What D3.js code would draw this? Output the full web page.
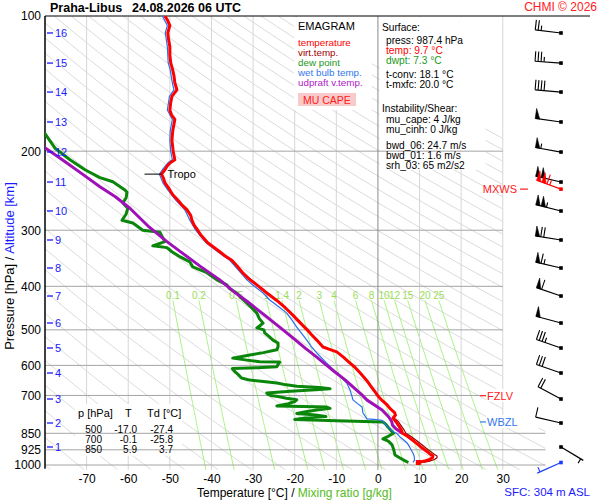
<!DOCTYPE html>
<html>
<head>
<meta charset="utf-8">
<script src="https://cdn.jsdelivr.net/npm/d3@7"></script>
<style>
  body { margin: 0; background: #fff; }
  svg { font-family: "Liberation Sans", Arial, sans-serif; }
</style>
</head>
<body>
<svg id="chart" width="600" height="500"></svg>
<script>
var pressTicks = [100, 200, 300, 400, 500, 600, 700, 850, 925, 1000];
var tempTicks = [-70, -60, -50, -40, -30, -20, -10, 0, 10, 20, 30];
var mixRatios = [0.1, 0.2, 0.5, 1, 1.4, 2, 3, 4, 6, 8, 10, 12, 15, 20, 25];
var altKm = [1, 2, 3, 4, 5, 6, 7, 8, 9, 10, 11, 12, 13, 14, 15, 16];
var altPress = [911.8, 806.2, 712.9, 623.9, 548.8, 482.8, 420.4, 364.1, 315.4, 271.8, 234.3, 200.9, 172.2, 147.7, 127.3, 109.1];

// [pressure hPa, value °C]
var temperature = [
  [987.4, 9.7], [980, 11.2], [972, 12.4], [963, 13.1], [955, 13.2], [948, 12.7], [935, 11.9],
  [918, 10.7], [900, 9.6], [880, 8.3], [862, 7.0], [850, 5.9], [836, 5.6], [818, 5.0],
  [800, 4.3], [786, 3.6], [775, 4.2], [764, 4.0], [750, 3.0], [735, 2.2], [718, 1.0],
  [700, -0.1], [685, -0.8], [670, -1.6], [648, -2.7], [625, -4.2], [605, -5.6], [593, -6.7],
  [575, -8.3], [560, -9.9], [552, -11.8], [546, -13.2], [527, -14.7], [512, -16.0], [500, -17.0],
  [483, -18.6], [463, -20.5], [447, -22.2], [430, -24.3], [414, -26.7], [397, -29.1], [385, -31.0],
  [373, -32.5], [360, -33.9], [350, -35.1], [342, -36.8], [335, -38.0], [320, -40.9], [308, -42.5],
  [300, -43.3], [292, -44.2], [285, -44.7], [278, -45.0], [270, -45.9], [263, -47.2], [257, -48.1],
  [250, -49.3], [244, -50.0], [235, -51.2], [229, -51.6], [225, -52.0], [220, -51.2], [215, -50.5],
  [212, -49.8], [209, -48.8], [200, -49.2], [189, -49.5], [180, -49.3], [170, -48.8], [166, -49.6],
  [162, -50.0], [156, -49.8], [151, -49.5], [146, -48.3], [141, -48.8], [136, -49.0], [132, -49.3],
  [127, -49.8], [122, -50.0], [117, -50.0], [113, -50.3], [109, -50.5], [105, -50.0], [102, -50.6],
  [100, -51.2]
];
var virtTemp = [
  [987.4, 10.9], [980, 12.4], [972, 13.6], [963, 14.2], [955, 14.2], [948, 13.6], [935, 12.8],
  [918, 11.6], [900, 10.5], [880, 9.1], [862, 7.8], [850, 6.7], [836, 6.3], [818, 5.6],
  [800, 4.9], [786, 3.8], [775, 4.3], [764, 4.1], [750, 3.1], [735, 2.3], [718, 1.1],
  [700, 0.0], [670, -1.5], [648, -2.6], [625, -4.1], [593, -6.6], [560, -9.8], [546, -13.1],
  [527, -14.6], [500, -16.9], [463, -20.4], [430, -24.2], [397, -29.0], [373, -32.5]
];
var dewPoint = [
  [987.4, 7.3], [975, 6.2], [965, 5.3], [950, 4.1], [925, 3.8], [902, 3.4], [885, 2.5],
  [875, 1.2], [866, 2.2], [850, 3.7], [835, 3.0], [823, 2.4], [810, 1.8], [802, 1.2],
  [797, -10], [792, -20.0], [786, -17.5], [780, -12.5], [774, -15], [768, -19.5], [760, -17],
  [754, -14.7], [748, -11.5], [743, -12.3], [741, -18], [739, -24.3], [730, -21.5], [722, -20],
  [716, -19.5], [710, -22], [704, -24], [700, -25.8], [695, -26.5], [691, -26.7], [685, -21],
  [680, -15], [676, -11.5], [672, -14], [668, -19.5], [663, -22], [657, -24.3], [652, -27.5],
  [647, -30.8], [640, -32.8], [630, -33.5], [618, -34.5], [610, -35], [607, -29], [604, -24.3],
  [597, -24], [590, -23.6], [589, -28.4], [584, -31.5], [578, -34.9], [574, -33], [569, -30.8],
  [562, -27.5], [554, -24.3], [545, -24.0], [535, -24.0], [527, -25.2], [517, -26.2], [508, -27.2],
  [500, -27.4], [495, -29.1], [489, -28.3], [483, -27.6], [472, -28.5], [459, -29.1], [447, -30.3],
  [436, -31.5], [425, -32.8], [414, -33.9], [405, -35.6], [397, -36.3], [387, -38.7], [373, -41.1],
  [362, -44.5], [353, -45.2], [344, -47.5], [335, -49.5], [328, -50.7], [325, -54.1], [318, -51.2],
  [303, -52.4], [300, -56.5], [289, -58.9], [285, -61.5], [276, -60.5], [268, -60.1], [261, -61.3],
  [254, -60.5], [247, -60.3], [244, -60.8], [234, -63.7], [229, -66.8], [220, -70.4], [209, -74],
  [197, -77.6], [180, -80.5]
];
var wetBulb = [
  [987.4, 8.4], [975, 8.8], [955, 8.7], [940, 8.4], [915, 7.7], [893, 7.0], [880, 6.2],
  [866, 5.3], [850, 4.5], [844, 3.8], [825, 2.5], [805, 1.4], [795, 1.0], [791, -1.0],
  [789, -2.6], [780, -3.0], [766, -3.6], [755, -3.7], [743, -3.8], [730, -4.9], [716, -6.0],
  [700, -6.3], [681, -6.7], [657, -7.5], [640, -8.7], [624, -9.9], [593, -12.3], [563, -14.7],
  [545, -16.0], [527, -17.1], [510, -18.3], [493, -19.5], [475, -20.7], [459, -21.9], [443, -24.0],
  [429, -26.0], [414, -27.6], [400, -29.7], [387, -31.5], [373, -33.0], [350, -35.6], [335, -38.5],
  [320, -41.3], [300, -43.8], [285, -45.2], [270, -46.4], [257, -48.6], [244, -50.5], [235, -51.7],
  [225, -52.5], [220, -51.8], [212, -50.4], [209, -49.4], [200, -49.8], [189, -50.0], [180, -49.9],
  [170, -49.4], [162, -50.6], [151, -50.1], [146, -49.0], [141, -49.4], [132, -49.9], [127, -50.4],
  [117, -50.6], [109, -51.1], [105, -50.6], [100, -51.8]
];
var parcel = [
  [850, 5.9], [830, 4.3], [815, 3.5], [800, 3.3], [782, 2.6], [754, 1.0], [717, -2.6],
  [700, -3.7], [680, -5.2], [647, -7.8], [620, -10.4], [600, -12.3], [575, -14.7], [550, -17.4],
  [525, -20.0], [500, -22.8], [468, -26.7], [433, -31.3], [414, -34.2], [387, -38.0], [362, -42.5],
  [340, -46.5], [318, -50.7], [295, -55.0], [268, -59.6], [253, -63.0], [240, -66.8], [225, -71.0],
  [210, -75.5], [196, -80.2]
];

// winds: surface, then 1..16 km
var windPress = [987.4].concat(altPress);
var windDir = [246, 121, 283, 298, 289, 289, 285, 289, 283, 279, 284, 283, 280, 278, 275, 274, 277];
var windSpd = [5, 3, 10, 20, 30, 35, 50, 60, 65, 70, 105, 100, 55, 50, 40, 35, 25];
var maxWind = { p: 243, dir: 290, spd: 115 };

var tableP = [500, 700, 850];
var tableT = [-17.0, -0.1, 5.9];
var tableTd = [-27.4, -25.8, 3.7];

var tropoP = 225, tropoT = -52.0;
var fzlvP = 701, wbzlP = 802;

// --- scales ---
var svg = d3.select('#chart');
var x = d3.scaleLinear().domain([-80, 40]).range([45, 544.4]);
var y = d3.scaleLog().domain([100, 1000]).range([16, 465]);
var pBot = 1025;
var plotL = x(-80), plotR = x(40), plotT = y(100), plotB = y(pBot);
var upperR = x(30), stepY = 428;   // upper part of the diagram stops at the 30 °C isotherm

var loc = d3.formatLocale({ decimal: '.', thousands: '', grouping: [3], currency: ['', ''], minus: '-' });
var f1 = loc.format('.1f');
var fi = loc.format('d');

svg.append('defs').append('clipPath').attr('id', 'plotclip')
  .append('path').attr('d', 'M' + plotL + ',' + plotT + 'H' + upperR + 'V' + stepY +
    'H' + (plotR + 1) + 'V' + plotB + 'H' + plotL + 'Z');

var line = d3.line().x(function (d) { return x(d[1]); }).y(function (d) { return y(d[0]); });

var bg = svg.append('g').attr('clip-path', 'url(#plotclip)');

// dry adiabats
var pSteps = d3.range(100, pBot + 1, 5);
d3.range(-80, 221, 8).forEach(function (th) {
  var pts = pSteps.map(function (p) {
    return [p, (th + 273.15) * Math.pow(p / 1000, 0.2857) - 273.15];
  });
  bg.append('path').attr('d', line(pts))
    .attr('fill', 'none').attr('stroke', '#d6d6d6').attr('stroke-width', 0.9);
});

// isotherms
tempTicks.forEach(function (t) {
  if (t === 0) return;
  svg.append('line').attr('x1', x(t)).attr('x2', x(t)).attr('y1', plotT).attr('y2', plotB)
    .attr('stroke', '#d6d6d6').attr('stroke-width', 1);
});

// mixing ratio lines
function dewFromMix(w, p) {
  var e = w * p / (622 + w);
  var l = Math.log(e / 6.112);
  return 243.5 * l / (17.67 - l);
}
var mixTop = 430;
var mixP = d3.range(mixTop, pBot + 1, 5);
mixRatios.forEach(function (w) {
  var pts = mixP.map(function (p) { return [p, dewFromMix(w, p)]; });
  bg.append('path').attr('d', line(pts))
    .attr('fill', 'none').attr('stroke', '#a8f080').attr('stroke-width', 1);
  svg.append('text').attr('x', x(dewFromMix(w, mixTop))).attr('y', 298.5)
    .attr('text-anchor', 'middle').attr('font-size', 10).attr('fill', '#99dd55')
    .text(String(w));
});

// white text boxes
svg.append('rect').attr('x', 294).attr('y', 17).attr('width', 78).attr('height', 93).attr('fill', '#fff');
svg.append('rect').attr('x', 379.5).attr('y', 17).attr('width', 106).attr('height', 153).attr('fill', '#fff');
svg.append('rect').attr('x', 75).attr('y', 404).attr('width', 107).attr('height', 52)
  .attr('fill', '#fff').attr('fill-opacity', 0.9);

// isobars
pressTicks.forEach(function (p) {
  if (p === 100) return;
  var yy = y(p);
  svg.append('line').attr('x1', plotL).attr('x2', yy < stepY ? upperR : plotR + 1).attr('y1', yy).attr('y2', yy)
    .attr('stroke', '#a4a4a4').attr('stroke-width', 1);
});
svg.append('line').attr('x1', x(0)).attr('x2', x(0)).attr('y1', plotT).attr('y2', plotB)
  .attr('stroke', '#8c8c8c').attr('stroke-width', 1);

// frame
svg.append('line').attr('x1', plotL).attr('x2', 590).attr('y1', plotT).attr('y2', plotT)
  .attr('stroke', '#000').attr('stroke-width', 1.2);
svg.append('line').attr('x1', plotL).attr('x2', plotL).attr('y1', plotT).attr('y2', plotB - 1)
  .attr('stroke', '#000').attr('stroke-width', 1.5);

// profiles
var prof = svg.append('g').attr('clip-path', 'url(#plotclip)').attr('fill', 'none')
  .attr('stroke-linejoin', 'round');
prof.append('path').attr('d', line(dewPoint)).attr('stroke', '#0a870a').attr('stroke-width', 3);
prof.append('path').attr('d', line(wetBulb)).attr('stroke', '#2a6ff0').attr('stroke-width', 1.2);
prof.append('path').attr('d', line(parcel)).attr('stroke', '#a010b8').attr('stroke-width', 3);
prof.append('path').attr('d', line(virtTemp)).attr('stroke', '#9a0000').attr('stroke-width', 1.2);
prof.append('path').attr('d', line(temperature)).attr('stroke', '#ff0000').attr('stroke-width', 3);
svg.append('rect').attr('x', x(temperature[0][1]) - 2.5).attr('y', y(temperature[0][0]) - 2.5)
  .attr('width', 5).attr('height', 5).attr('fill', '#ff0000');

// tropopause
svg.append('line').attr('x1', x(tropoT) - 17).attr('x2', x(tropoT)).attr('y1', y(tropoP)).attr('y2', y(tropoP))
  .attr('stroke', '#000').attr('stroke-width', 1);
svg.append('text').attr('x', x(tropoT) + 6).attr('y', y(tropoP) + 4).attr('font-size', 11).text('Tropo');

// level markers on the right
function levelMark(p, label, col) {
  var yy = y(p);
  svg.append('rect').attr('x', 486).attr('y', yy - 7).attr('width', 36).attr('height', 13).attr('fill', '#fff');
  svg.append('line').attr('x1', 480).attr('x2', 486).attr('y1', yy).attr('y2', yy)
    .attr('stroke', col).attr('stroke-width', 1.2);
  svg.append('text').attr('x', 487).attr('y', yy + 4).attr('font-size', 11).attr('fill', col).text(label);
}
levelMark(fzlvP, 'FZLV', '#ff2020');
levelMark(wbzlP, 'WBZL', '#3377ee');
svg.append('text').attr('x', 517).attr('y', y(maxWind.p) + 4).attr('text-anchor', 'end')
  .attr('font-size', 11).attr('fill', '#ff2020').text('MXWS');
svg.append('line').attr('x1', 520).attr('x2', 528).attr('y1', y(maxWind.p)).attr('y2', y(maxWind.p))
  .attr('stroke', '#ff2020').attr('stroke-width', 1.2);

// wind barbs
var barbX = 561;
function barb(px, py, dir, spd, col) {
  var g = svg.append('g');
  var a = dir * Math.PI / 180;
  var ux = Math.sin(a), uy = -Math.cos(a);
  var nx = -uy, ny = ux;
  var L = 26;
  function at(d, off) { return [px + ux * d + nx * off, py + uy * d + ny * off]; }
  var e = at(L, 0);
  g.append('line').attr('x1', px).attr('y1', py).attr('x2', e[0]).attr('y2', e[1])
    .attr('stroke', col).attr('stroke-width', 1.2);
  g.append('rect').attr('x', px - 1.8).attr('y', py - 1.8).attr('width', 3.6).attr('height', 3.6).attr('fill', col);
  var s = Math.round(spd / 5) * 5;
  var pen = Math.floor(s / 50); s -= pen * 50;
  var full = Math.floor(s / 10); s -= full * 10;
  var half = s >= 5 ? 1 : 0;
  var d = L;
  for (var i = 0; i < pen; i++) {
    var p1 = at(d, 0), p2 = at(d, 10), p3 = at(d - 4.5, 0);
    g.append('polygon').attr('points', [p1, p2, p3].map(function (q) { return q.join(','); }).join(' '))
      .attr('fill', col).attr('stroke', col).attr('stroke-width', 0.6);
    d -= 5.5;
  }
  for (var j = 0; j < full; j++) {
    var b0 = at(d, 0), b1 = at(d, 10);
    g.append('line').attr('x1', b0[0]).attr('y1', b0[1]).attr('x2', b1[0]).attr('y2', b1[1])
      .attr('stroke', col).attr('stroke-width', 1.1);
    d -= 3;
  }
  if (half) {
    if (pen === 0 && full === 0) d -= 3;
    var h0 = at(d, 0), h1 = at(d, 5);
    g.append('line').attr('x1', h0[0]).attr('y1', h0[1]).attr('x2', h1[0]).attr('y2', h1[1])
      .attr('stroke', col).attr('stroke-width', 1.1);
  }
}
windPress.forEach(function (p, i) {
  barb(barbX, y(p), windDir[i], windSpd[i], i === 0 ? '#1a3cff' : '#000');
});
barb(barbX, y(maxWind.p), maxWind.dir, maxWind.spd, '#ff0000');

// axes
var xAxis = svg.append('g').attr('transform', 'translate(0,' + (plotB + 1) + ')')
  .call(d3.axisBottom(x).tickValues(tempTicks).tickSize(0).tickPadding(4).tickFormat(fi));
xAxis.select('.domain').remove();
xAxis.selectAll('text').attr('font-size', 12).attr('font-family', null).attr('fill', '#000');

var yAxis = svg.append('g').attr('transform', 'translate(' + plotL + ',0)')
  .call(d3.axisLeft(y).tickValues(pressTicks).tickSize(0).tickPadding(4).tickFormat(fi));
yAxis.select('.domain').remove();
yAxis.selectAll('text').attr('font-size', 12).attr('font-family', null).attr('fill', '#000');

// altitude ticks
altKm.forEach(function (k, i) {
  var yy = y(altPress[i]);
  svg.append('line').attr('x1', 47).attr('x2', 53).attr('y1', yy).attr('y2', yy)
    .attr('stroke', '#1a1aff').attr('stroke-width', 1.3);
  svg.append('text').attr('x', 55).attr('y', yy + 4).attr('font-size', 11).attr('fill', '#1a1aff').text(k);
});

// titles
svg.append('text').attr('x', 50).attr('y', 12).attr('font-size', 12.5).attr('font-weight', 'bold').text('Praha-Libus');
svg.append('text').attr('x', 132).attr('y', 12).attr('font-size', 12.5).attr('font-weight', 'bold').text('24.08.2026 06 UTC');
svg.append('text').attr('x', 597).attr('y', 11).attr('text-anchor', 'end').attr('font-size', 12)
  .attr('fill', '#ff2020').text('CHMI \u00a9 2026');
svg.append('text').attr('x', 590).attr('y', 496).attr('text-anchor', 'end').attr('font-size', 11.5)
  .attr('fill', '#1a1aff').text('SFC: 304 m ASL');

var xt = svg.append('text').attr('x', 197).attr('y', 497).attr('font-size', 12);
xt.append('tspan').attr('fill', '#000').text('Temperature [\u00b0C]  /  ');
xt.append('tspan').attr('fill', '#55bb22').text('Mixing ratio [g/kg]');

var yt = svg.append('text').attr('transform', 'translate(14,266) rotate(-90)')
  .attr('text-anchor', 'middle').attr('font-size', 13);
yt.append('tspan').attr('fill', '#000').text('Pressure [hPa]  /  ');
yt.append('tspan').attr('fill', '#1a1aff').text('Altitude [km]');

// legend box
var legend = [
  ['temperature', '#ff0000'],
  ['virt.temp.', '#a00000'],
  ['dew point', '#229922'],
  ['wet bulb temp.', '#3377ee'],
  ['udpraft v.temp.', '#b020c8']
];
svg.append('text').attr('x', 298).attr('y', 30).attr('font-size', 11).text('EMAGRAM');
legend.forEach(function (l, i) {
  svg.append('text').attr('x', 298).attr('y', 45.5 + i * 10).attr('font-size', 9.8).attr('fill', l[1]).text(l[0]);
});
svg.append('rect').attr('x', 298).attr('y', 93).attr('width', 58).attr('height', 13).attr('fill', '#f8caca');
svg.append('text').attr('x', 303).attr('y', 104).attr('font-size', 10.5).attr('fill', '#ff2020').text('MU CAPE');

// surface / instability box
var stats = [
  ['Surface:', 382, 31, '#000'],
  ['press: 987.4 hPa', 386, 44, '#000'],
  ['temp: 9.7 \u00b0C', 386, 54, '#ff0000'],
  ['dwpt: 7.3 \u00b0C', 386, 64, '#229922'],
  ['t-conv: 18.1 \u00b0C', 386, 78, '#000'],
  ['t-mxfc: 20.0 \u00b0C', 386, 88, '#000'],
  ['Instability/Shear:', 382, 112, '#000'],
  ['mu_cape: 4 J/kg', 386, 123, '#000'],
  ['mu_cinh: 0 J/kg', 386, 133, '#000'],
  ['bwd_06: 24.7 m/s', 386, 148.5, '#000'],
  ['bwd_01: 1.6 m/s', 386, 158.5, '#000'],
  ['srh_03: 65 m2/s2', 386, 168.5, '#000']
];
stats.forEach(function (s) {
  svg.append('text').attr('x', s[1]).attr('y', s[2]).attr('font-size', 10.2).attr('fill', s[3]).text(s[0]);
});

// level table
svg.append('text').attr('x', 78).attr('y', 417).attr('font-size', 11).text('p [hPa]');
svg.append('text').attr('x', 125).attr('y', 417).attr('font-size', 11).text('T');
svg.append('text').attr('x', 147).attr('y', 417).attr('font-size', 11).text('Td [\u00b0C]');
tableP.forEach(function (p, i) {
  var yy = 433 + i * 10;
  svg.append('text').attr('x', 102).attr('y', yy).attr('text-anchor', 'end').attr('font-size', 10).text(fi(p));
  svg.append('text').attr('x', 137).attr('y', yy).attr('text-anchor', 'end').attr('font-size', 10).text(f1(tableT[i]));
  svg.append('text').attr('x', 173).attr('y', yy).attr('text-anchor', 'end').attr('font-size', 10).text(f1(tableTd[i]));
});
</script>
</body>
</html>
